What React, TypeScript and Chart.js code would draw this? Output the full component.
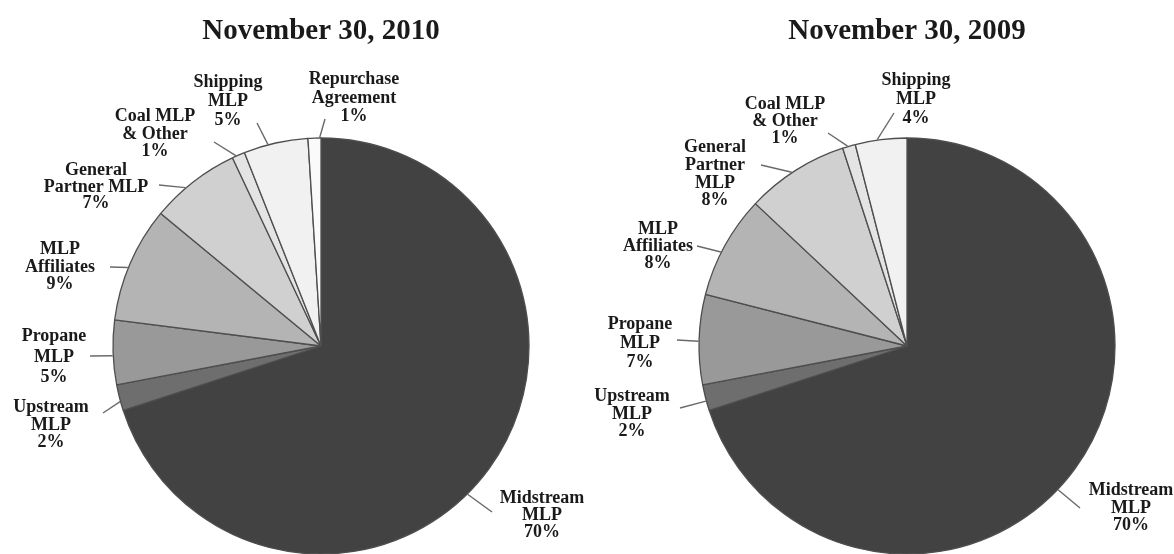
import React, { useEffect, useRef } from "react";
import { Chart, registerables } from "chart.js";

Chart.register(...registerables);

const W = 1174;
const H = 554;

// ---------- data ----------
const title2010 = "November 30, 2010";
const categories2010 = [
  "Midstream MLP",
  "Upstream MLP",
  "Propane MLP",
  "MLP Affiliates",
  "General Partner MLP",
  "Coal MLP & Other",
  "Shipping MLP",
  "Repurchase Agreement",
];
const labelLines2010 = [
  ["Midstream", "MLP"],
  ["Upstream", "MLP"],
  ["Propane", "MLP"],
  ["MLP", "Affiliates"],
  ["General", "Partner MLP"],
  ["Coal MLP", "& Other"],
  ["Shipping", "MLP"],
  ["Repurchase", "Agreement"],
];
const values2010 = [70, 2, 5, 9, 7, 1, 5, 1];

const title2009 = "November 30, 2009";
const categories2009 = [
  "Midstream MLP",
  "Upstream MLP",
  "Propane MLP",
  "MLP Affiliates",
  "General Partner MLP",
  "Coal MLP & Other",
  "Shipping MLP",
];
const labelLines2009 = [
  ["Midstream", "MLP"],
  ["Upstream", "MLP"],
  ["Propane", "MLP"],
  ["MLP", "Affiliates"],
  ["General", "Partner", "MLP"],
  ["Coal MLP", "& Other"],
  ["Shipping", "MLP"],
];
const values2009 = [70, 2, 7, 8, 8, 1, 4];

// ---------- styles / layout ----------
const sliceColors = [
  "#424242",
  "#6e6e6e",
  "#999999",
  "#b4b4b4",
  "#d0d0d0",
  "#e4e4e4",
  "#f1f1f1",
  "#fafafa",
];

type LabelLayout = { at: number; end: [number, number]; label: [number, number]; gap: number };

// label placement relative to the pie centre; leader starts on the arc edge at fraction `at`
const layout2010: LabelLayout[] = [
  { at: 0.537, end: [171, 166], label: [221, 169], gap: 17 },
  { at: 0.35, end: [-218, 67], label: [-270, 79], gap: 17.5 },
  { at: 0.45, end: [-231, 10], label: [-267, 11], gap: 20.5 },
  { at: 0.46, end: [-211, -79], label: [-261, -79], gap: 17.5 },
  { at: 0.39, end: [-162, -161], label: [-225, -159], gap: 16.7 },
  { at: 0.3, end: [-107, -204], label: [-166, -212], gap: 17.5 },
  { at: 0.38, end: [-64, -223], label: [-93, -245], gap: 19 },
  { at: 0.9, end: [4, -227], label: [33, -248], gap: 18.5 },
];

const layout2009: LabelLayout[] = [
  { at: 0.53, end: [173, 162], label: [224, 162], gap: 17.5 },
  { at: 0.37, end: [-227, 62], label: [-275, 68], gap: 17.5 },
  { at: 0.48, end: [-230, -6], label: [-267, -3], gap: 19 },
  { at: 0.43, end: [-210, -100], label: [-249, -100], gap: 17 },
  { at: 0.46, end: [-146, -181], label: [-192, -172], gap: 17.7 },
  { at: 0.4, end: [-79, -213], label: [-122, -225], gap: 17 },
  { at: 0.43, end: [-13, -233], label: [9, -247], gap: 19 },
];

const SERIF = "'Liberation Serif', 'Times New Roman', 'DejaVu Serif', serif";

const annotatePlugin = {
  id: "annotate",
  afterDraw(chart: any, _args: any, opts: any) {
    const ctx: CanvasRenderingContext2D = chart.ctx;
    const meta = chart.getDatasetMeta(0);
    if (!meta.data.length) return;
    const c = meta.data[0].getProps(["x", "y", "outerRadius"], true);
    const cx = c.x;
    const cy = c.y;
    const r = c.outerRadius;
    ctx.save();
    // title
    ctx.fillStyle = "#1a1a1a";
    ctx.textAlign = "center";
    ctx.textBaseline = "alphabetic";
    ctx.font = `bold 29px ${SERIF}`;
    ctx.fillText(opts.title, cx, 39);

    const values: number[] = chart.data.datasets[0].data;
    meta.data.forEach((el: any, i: number) => {
      const p = el.getProps(["startAngle", "endAngle"], true);
      const L: LabelLayout = opts.layout[i];
      const a = p.startAngle + (p.endAngle - p.startAngle) * L.at;
      const sx = cx + Math.cos(a) * (r + 0.5);
      const sy = cy + Math.sin(a) * (r + 0.5);
      const ex = cx + L.end[0];
      const ey = cy + L.end[1];
      ctx.strokeStyle = "#6a6a6a";
      ctx.lineWidth = 1.4;
      ctx.beginPath();
      ctx.moveTo(sx, sy);
      ctx.lineTo(ex, ey);
      ctx.stroke();

      const lines = [...opts.lines[i], `${values[i]}%`];
      const n = lines.length;
      ctx.font = `bold 18px ${SERIF}`;
      ctx.fillStyle = "#1a1a1a";
      ctx.textBaseline = "middle";
      lines.forEach((t: string, k: number) => {
        ctx.fillText(t, cx + L.label[0], cy + L.label[1] + (k - (n - 1) / 2) * L.gap);
      });
    });
    ctx.restore();
  },
};

function PieCanvas(props: {
  title: string;
  categories: string[];
  values: number[];
  lines: string[][];
  layout: LabelLayout[];
  padLeft: number;
  padRight: number;
}) {
  const ref = useRef<HTMLCanvasElement | null>(null);
  useEffect(() => {
    if (!ref.current) return;
    const chart = new Chart(ref.current, {
      type: "pie",
      data: {
        labels: props.categories,
        datasets: [
          {
            data: props.values,
            backgroundColor: sliceColors.slice(0, props.values.length),
            borderColor: "#4e4e4e",
            borderWidth: 1.3,
            radius: 208,
          } as any,
        ],
      },
      options: {
        responsive: false,
        animation: false,
        events: [],
        layout: { padding: { left: props.padLeft, right: props.padRight, top: 138, bottom: 0 } },
        plugins: {
          legend: { display: false },
          tooltip: { enabled: false },
          title: { display: false },
          annotate: { title: props.title, lines: props.lines, layout: props.layout },
        } as any,
      },
      plugins: [annotatePlugin as any],
    });
    return () => chart.destroy();
  }, []);
  return (
    <canvas
      ref={ref}
      width={W}
      height={H}
      style={{ position: "absolute", left: 0, top: 0, width: W, height: H }}
    />
  );
}

export default function App() {
  return (
    <div
      style={{
        position: "fixed",
        left: 0,
        top: 0,
        width: W,
        height: H,
        background: "#ffffff",
        overflow: "hidden",
      }}
    >
      <PieCanvas
        title={title2010}
        categories={categories2010}
        values={values2010}
        lines={labelLines2010}
        layout={layout2010}
        padLeft={0}
        padRight={532}
      />
      <PieCanvas
        title={title2009}
        categories={categories2009}
        values={values2009}
        lines={labelLines2009}
        layout={layout2009}
        padLeft={640}
        padRight={0}
      />
    </div>
  );
}
